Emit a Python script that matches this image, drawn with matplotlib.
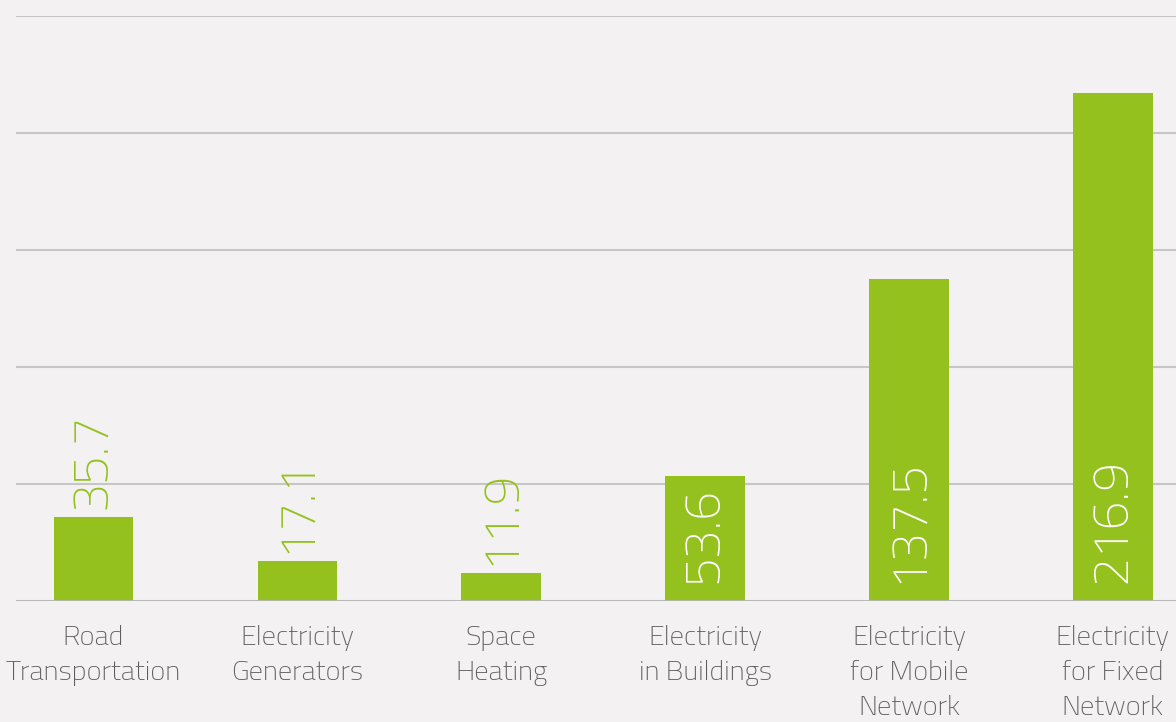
import matplotlib
matplotlib.use('Agg')
import matplotlib.pyplot as plt
from matplotlib import font_manager

# energy use by source
categories = ['Road\nTransportation', 'Electricity\nGenerators', 'Space\nHeating',
              'Electricity\nin Buildings', 'Electricity\nfor Mobile\nNetwork',
              'Electricity\nfor Fixed\nNetwork']
values = [35.7, 17.1, 11.9, 53.6, 137.5, 216.9]
grid_ticks = [0, 50, 100, 150, 200, 250]

green = '#95c11f'
bg = '#f3f1f2'

# pick a narrow, light face if one is around
have = set(f.name for f in font_manager.fontManager.ttflist)
font = 'Roboto'
for cand in ['Titillium Web', 'Barlow Semi Condensed', 'Roboto Condensed', 'Roboto']:
    if cand in have:
        font = cand
        break
plt.rcParams['font.family'] = [font, 'DejaVu Sans']
plt.rcParams['font.weight'] = 'light'

fig = plt.figure(figsize=(11.76, 7.22), dpi=100, facecolor=bg)
ax = fig.add_axes([16 / 1176, 121 / 722, 1 - 16 / 1176, 585 / 722])
ax.set_facecolor(bg)

x = range(len(values))
ax.bar(x, values, width=0.39, color=green, zorder=3)

ax.set_ylim(0, 250)
ax.set_xlim(-0.38, 5.31)
ax.set_yticks(grid_ticks)
ax.yaxis.grid(True, color='#c6c6c6', lw=1.5)
ax.set_axisbelow(True)
ax.tick_params(axis='y', left=False, labelleft=False)
for s in ax.spines.values():
    s.set_visible(False)
ax.axhline(0, color='#b8b8b8', lw=2, zorder=4)

ax.set_xticks(list(x))
ax.set_xticklabels(categories, fontsize=20.5, color='#5e5e5e', linespacing=1.47,
                   fontweight='light')
ax.tick_params(axis='x', length=0, pad=17)

for i, v in enumerate(values):
    if v > 50:
        ax.annotate('%.1f' % v, (i, 0), xytext=(0, 13), textcoords='offset points',
                    rotation=90, ha='center', va='bottom', fontsize=37,
                    color='white', fontweight='light', zorder=5)
    else:
        ax.annotate('%.1f' % v, (i, v), xytext=(0, 6), textcoords='offset points',
                    rotation=90, ha='center', va='bottom', fontsize=37,
                    color=green, fontweight='light', zorder=5)

fig.savefig('out.png', dpi=100, facecolor=bg)
